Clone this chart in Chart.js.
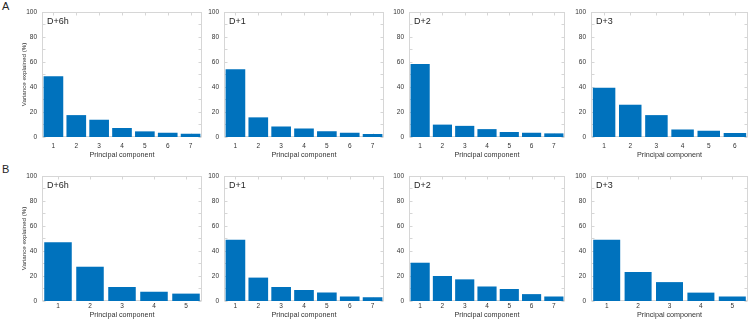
<!DOCTYPE html>
<html>
<head>
<meta charset="utf-8">
<script src="https://cdn.jsdelivr.net/npm/chart.js@4.4.1/dist/chart.umd.min.js"></script>
<style>
  html, body { margin: 0; padding: 0; width: 750px; height: 319px; overflow: hidden; background: #fff; }
  .panel { position: absolute; }
  .rowlab { position: absolute; font-family: "Liberation Sans", Arial, sans-serif; font-size: 11px; color: #262626; }
</style>
</head>
<body>
<div class="rowlab" style="left:2px; top:0px;">A</div>
<div class="rowlab" style="left:2px; top:163px;">B</div>
<script>
// ---- data ----
const pcLabels7 = ['1', '2', '3', '4', '5', '6', '7'];
const pcLabels6 = ['1', '2', '3', '4', '5', '6'];
const pcLabels5 = ['1', '2', '3', '4', '5'];
const panelTitles = ['D+6h', 'D+1', 'D+2', 'D+3'];
const yTitle = 'Variance explained (%)';
const xTitle = 'Principal component';

const varA_D6h = [48.5, 17.5, 13.8, 7.2, 4.5, 3.4, 2.6];
const varA_D1  = [54.2, 15.7, 8.4, 6.8, 4.6, 3.4, 2.4];
const varA_D2  = [58.4, 9.9, 8.9, 6.3, 4.0, 3.4, 2.9];
const varA_D3  = [39.4, 25.8, 17.5, 6.0, 5.0, 3.2];
const varB_D6h = [47.0, 27.4, 11.2, 7.4, 5.9];
const varB_D1  = [49.0, 18.7, 11.2, 8.8, 6.8, 3.6, 3.0];
const varB_D2  = [30.6, 20.0, 17.3, 11.6, 9.6, 5.5, 3.6];
const varB_D3  = [49.0, 23.2, 15.1, 6.7, 3.6];

// ---- layout ----
const colL = [42, 224, 409, 591];
const colR = [202, 384, 565, 748];
const rowT = [9, 173];
const rowB = [137, 301];
const FONT = "'Liberation Sans', Arial, sans-serif";
const TXT = '#333333';
const BOX = '#d6d6d6';
const BAR = '#0072BD';

const boxPlugin = {
  id: 'boxTicks',
  beforeDatasetsDraw(chart, args, opts) {
    const { ctx, chartArea: a, scales: { x, y } } = chart;
    ctx.save();
    ctx.strokeStyle = BOX;
    ctx.lineWidth = 1;
    const L = Math.round(a.left) + 0.5, R = Math.round(a.right) - 0.5;
    const T = Math.round(a.top) + 0.5, B = Math.round(a.bottom) - 0.5;
    ctx.beginPath();
    for (let v = 0; v <= 100; v += 10) {
      const py = Math.round(y.getPixelForValue(v)) + 0.5;
      ctx.moveTo(L, py); ctx.lineTo(L + 3, py);
      ctx.moveTo(R, py); ctx.lineTo(R - 3, py);
    }
    for (let i = 0; i < x.ticks.length; i++) {
      const px = Math.round(x.getPixelForTick(i)) + 0.5;
      ctx.moveTo(px, T); ctx.lineTo(px, T + 3);
      ctx.moveTo(px, B); ctx.lineTo(px, B - 3);
    }
    ctx.stroke();
    ctx.strokeRect(L, T, R - L, B - T);
    ctx.fillStyle = '#262626';
    ctx.font = '9px ' + FONT;
    ctx.textBaseline = 'middle';
    ctx.textAlign = 'left';
    ctx.fillText(opts.title, a.left + 5, a.top + 10);
    ctx.restore();
  }
};

const panels = [
  { row: 0, col: 0, labels: pcLabels7, values: varA_D6h },
  { row: 0, col: 1, labels: pcLabels7, values: varA_D1 },
  { row: 0, col: 2, labels: pcLabels7, values: varA_D2 },
  { row: 0, col: 3, labels: pcLabels6, values: varA_D3 },
  { row: 1, col: 0, labels: pcLabels5, values: varB_D6h },
  { row: 1, col: 1, labels: pcLabels7, values: varB_D1 },
  { row: 1, col: 2, labels: pcLabels7, values: varB_D2 },
  { row: 1, col: 3, labels: pcLabels5, values: varB_D3 },
];

panels.forEach(p => {
  const padL = p.col === 0 ? 42 : 30;
  const padR = 3, padT = 6;
  const padB = p.row === 0 ? 22 : (319 - rowB[1]);
  const left = colL[p.col] - padL;
  const top = rowT[p.row] - padT;
  const w = colR[p.col] - colL[p.col] + padL + padR;
  const h = rowB[p.row] - rowT[p.row] + padT + padB;
  const div = document.createElement('div');
  div.className = 'panel';
  div.style.left = left + 'px';
  div.style.top = top + 'px';
  div.style.width = w + 'px';
  div.style.height = h + 'px';
  const cv = document.createElement('canvas');
  cv.width = w; cv.height = h;
  cv.style.width = w + 'px'; cv.style.height = h + 'px';
  div.appendChild(cv);
  document.body.appendChild(div);

  new Chart(cv.getContext('2d'), {
    type: 'bar',
    data: {
      labels: p.labels,
      datasets: [{
        data: p.values,
        backgroundColor: BAR,
        borderWidth: 0,
        barPercentage: 0.86,
        categoryPercentage: 1.0
      }]
    },
    options: {
      responsive: false,
      animation: false,
      devicePixelRatio: 1,
      layout: { padding: { left: 0, right: padR, top: padT, bottom: 0 } },
      plugins: {
        legend: { display: false },
        tooltip: { enabled: false },
        boxTicks: { title: panelTitles[p.col] }
      },
      scales: {
        x: {
          grid: { display: false, drawTicks: false },
          border: { display: false },
          ticks: {
            color: TXT, font: { family: FONT, size: 6.5 },
            padding: p.row === 0 ? 5 : 1, maxRotation: 0, autoSkip: false
          },
          title: {
            display: true, text: xTitle, color: TXT,
            font: { family: FONT, size: 7.2 },
            padding: { top: 0, bottom: 0 }
          },
          afterFit: s => { s.height = padB; }
        },
        y: {
          min: 0, max: 100,
          grid: { display: false, drawTicks: false },
          border: { display: false },
          ticks: {
            stepSize: 20, color: TXT, font: { family: FONT, size: 6.5 },
            padding: 5
          },
          title: {
            display: p.col === 0, text: yTitle, color: TXT,
            font: { family: FONT, size: 6.2 },
            padding: { top: 21, bottom: 0 }
          },
          afterFit: s => { s.width = padL; }
        }
      }
    },
    plugins: [boxPlugin]
  });
});
</script>
</body>
</html>
